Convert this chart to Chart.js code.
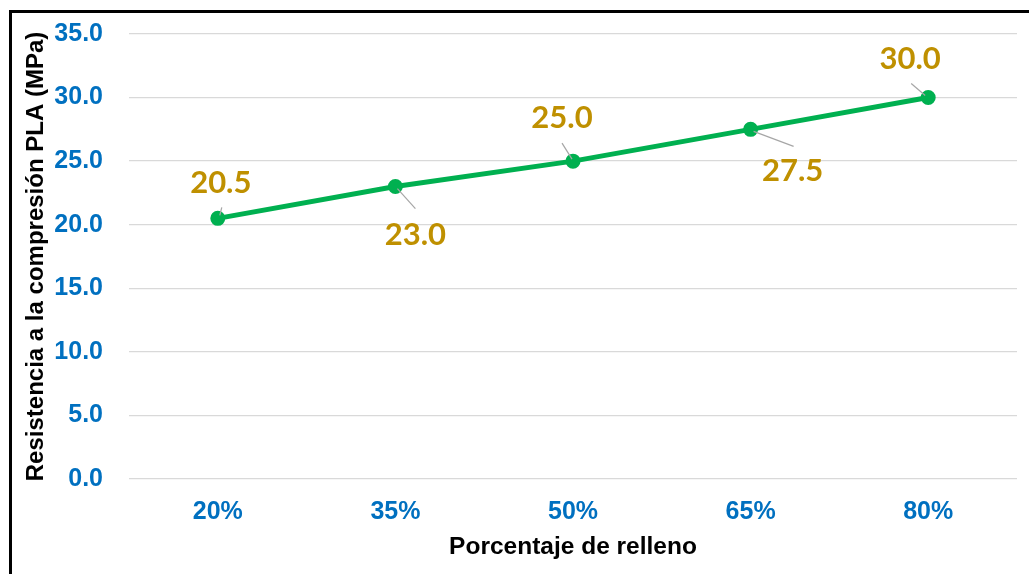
<!DOCTYPE html>
<html>
<head>
<meta charset="utf-8">
<script src="https://cdn.jsdelivr.net/npm/chart.js@4/dist/chart.umd.min.js"></script>
<style>
  html, body { margin: 0; padding: 0; background: #fff; overflow: hidden; }
  #wrap { position: relative; width: 1029px; height: 574px; overflow: hidden; }
  #frame { position: absolute; left: 9px; top: 10px; width: 1100px; height: 700px; border: 3px solid #000; box-sizing: border-box; }
  canvas { position: absolute; left: 0; top: 0; }
</style>
</head>
<body>
<div id="wrap">
  <div id="frame"></div>
  <canvas id="c" width="1029" height="574"></canvas>
</div>
<script>
const categories = ['20%', '35%', '50%', '65%', '80%'];
const resistencia = [20.5, 23.0, 25.0, 27.5, 30.0];
const yTicks = [0, 5, 10, 15, 20, 25, 30, 35];

// label placement (text centre offset from point, leader line start/end offsets)
const labelLayout = [
  { text: [3, -35],  lead: [[4, -11], [2, -3]] },
  { text: [20, 48],  lead: [[2, 2], [20, 22]] },
  { text: [-11, -43], lead: [[-11, -18], [-1, -2]] },
  { text: [42, 42],  lead: [[3, 2], [43, 17]] },
  { text: [-18, -39], lead: [[-17, -14], [-3, -2]] }
];

const dataLabelPlugin = {
  id: 'dataLabels',
  afterDatasetsDraw(chart) {
    const ctx = chart.ctx;
    const meta = chart.getDatasetMeta(0);
    ctx.save();
    meta.data.forEach((pt, i) => {
      const L = labelLayout[i];
      ctx.strokeStyle = '#A6A6A6';
      ctx.lineWidth = 1.2;
      ctx.beginPath();
      ctx.moveTo(pt.x + L.lead[0][0], pt.y + L.lead[0][1]);
      ctx.lineTo(pt.x + L.lead[1][0], pt.y + L.lead[1][1]);
      ctx.stroke();
      ctx.fillStyle = '#BF9000';
      ctx.font = 'bold 31px Lato';
      ctx.textAlign = 'center';
      ctx.textBaseline = 'middle';
      ctx.fillText(resistencia[i].toFixed(1), pt.x + L.text[0], pt.y + L.text[1]);
    });
    ctx.restore();
  }
};

new Chart(document.getElementById('c'), {
  type: 'line',
  data: {
    labels: categories,
    datasets: [{
      label: 'Resistencia',
      data: resistencia,
      borderColor: '#00B050',
      backgroundColor: '#00B050',
      borderWidth: 5,
      pointRadius: 5,
      pointHoverRadius: 5,
      pointBackgroundColor: '#00B050',
      pointBorderColor: '#00B050',
      tension: 0,
      fill: false
    }]
  },
  options: {
    responsive: false,
    animation: false,
    events: [],
    layout: { padding: { left: 0, top: 34, right: 12, bottom: 0 } },
    plugins: { legend: { display: false }, tooltip: { enabled: false } },
    scales: {
      x: {
        offset: true,
        grid: { display: false, drawTicks: false },
        border: { display: false },
        ticks: {
          color: '#0070C0',
          font: { family: 'Liberation Sans, Arial', size: 25, weight: 'bold' },
          padding: 18,
          maxRotation: 0
        },
        title: {
          display: true,
          text: 'Porcentaje de relleno',
          color: '#000',
          font: { family: 'Liberation Sans, Arial', size: 24.5, weight: 'bold' },
          padding: { top: 0, bottom: 12 }
        },
        afterFit(scale) { scale.height = 95; scale.paddingLeft = 0; scale.paddingRight = 0; }
      },
      y: {
        min: 0,
        max: 35,
        afterBuildTicks(scale) { scale.ticks = yTicks.map(v => ({ value: v })); },
        grid: { color: '#D9D9D9', lineWidth: 1.3, drawTicks: false },
        border: { display: false },
        ticks: {
          color: '#0070C0',
          font: { family: 'Liberation Sans, Arial', size: 25, weight: 'bold' },
          padding: 26,
          callback: v => Number(v).toFixed(1)
        },
        title: {
          display: true,
          text: 'Resistencia a la compresión PLA (MPa)',
          color: '#000',
          font: { family: 'Liberation Sans, Arial', size: 24, weight: 'bold' },
          padding: { top: 22, bottom: 0 }
        },
        afterFit(scale) { scale.width = 129; scale.paddingTop = 0; scale.paddingBottom = 0; }
      }
    }
  },
  plugins: [dataLabelPlugin]
});
</script>
</body>
</html>
